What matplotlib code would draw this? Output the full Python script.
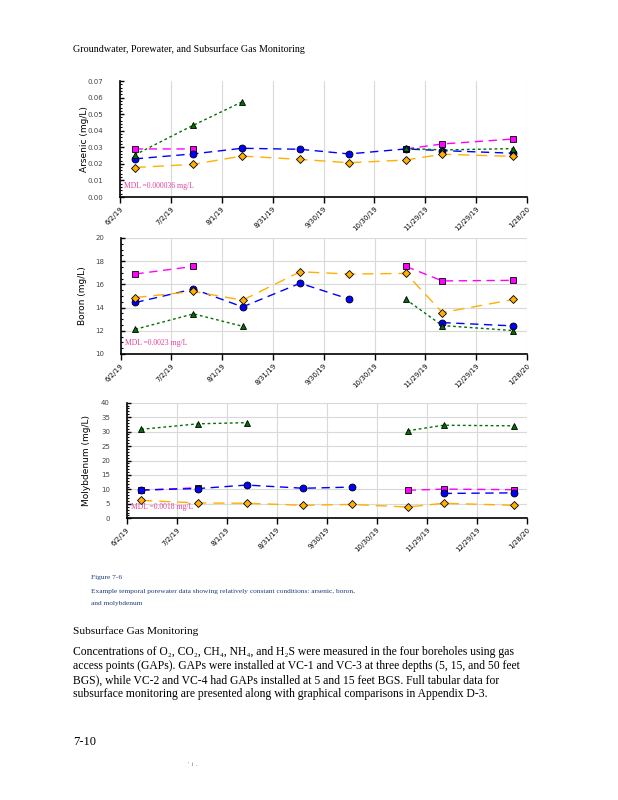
import matplotlib
matplotlib.use("Agg")
import matplotlib.pyplot as plt
import numpy as np

# Sampling positions, in days after the first axis tick
sample_days = [8.7, 43, 72, 106, 135, 168.5, 190, 232]
tick_labels = ["6/2/19", "7/2/19", "8/1/19", "8/31/19", "9/30/19",
               "10/30/19", "11/29/19", "12/29/19", "1/28/20"]

nan = np.nan

arsenic_magenta = [0.029, 0.029, nan, nan, nan, 0.029, 0.032, 0.035]
arsenic_blue = [0.023, 0.026, 0.0294, 0.0288, 0.026, 0.029, 0.028, 0.0264]
arsenic_green = [0.0254, 0.0432, 0.0574, nan, nan, 0.0294, 0.0284, 0.0292]
arsenic_orange = [0.0178, 0.0197, 0.0247, 0.0227, 0.0207, 0.0223, 0.0258, 0.0245]

boron_magenta = [16.9, 17.55, nan, nan, nan, 17.55, 16.3, 16.35]
boron_blue = [14.44, 15.6, 14.06, 16.1, 14.73, nan, 12.71, 12.42]
boron_green = [12.13, 13.46, 12.39, nan, nan, 14.7, 12.45, 12.02]
boron_orange = [14.87, 15.39, 14.64, 17.09, 16.89, 16.95, 13.57, 14.7]

moly_magenta = [9.7, 10.6, nan, nan, nan, 9.7, 10.1, 9.9]
moly_blue = [9.8, 10.3, 11.5, 10.4, 10.8, nan, 8.6, 8.8]
moly_green = [30.8, 32.7, 33.1, nan, nan, 30.3, 32.2, 32.0]
moly_orange = [6.2, 5.3, 5.2, 4.5, 4.8, 3.9, 5.2, 4.5]

SERIES_STYLE = [
    ("magenta", "s", (0, (6, 4))),
    ("#0000ff", "o", (0, (6, 4))),
    ("#007000", "^", (0, (2, 2))),
    ("#ffb000", "D", (0, (8, 5))),
]

plt.rcParams["font.family"] = ["Liberation Serif", "DejaVu Serif"]

fig = plt.figure(figsize=(6.18, 8.0), dpi=100)
W, H = 618.0, 800.0


def add_axes(left, top, right, bottom):
    return fig.add_axes([left / W, 1 - bottom / H, (right - left) / W, (bottom - top) / H])


def draw_chart(ax, series, ylim, yticks, fmt, ylabel, mdl, hgrid=True, labelpad=4):
    x = np.array(sample_days)
    for (color, marker, ls), vals in zip(SERIES_STYLE, series):
        y = np.array(vals, dtype=float)
        ax.plot(x, y, color=color, linestyle=ls, linewidth=1.0, zorder=3)
        ax.plot(x, y, linestyle="none", marker=marker, markersize=5 if marker != "D" else 4.5,
                markerfacecolor=color, markeredgecolor="black", markeredgewidth=0.6, zorder=4)
    ticks = np.arange(0, 30 * len(tick_labels), 30)
    ax.set_xlim(0, ticks[-1])
    ax.set_ylim(*ylim)
    ax.set_xticks(ticks)
    ax.set_xticklabels(tick_labels, rotation=45, ha="right", rotation_mode="anchor",
                       fontsize=5, family="DejaVu Sans")
    ax.set_yticks(yticks)
    ax.set_yticklabels([fmt.format(v) for v in yticks], fontsize=5, family="DejaVu Sans",
                       color="#444444")
    ax.grid(True, axis="x", color="#d9d9d9", linewidth=0.8, zorder=0)
    if hgrid:
        ax.grid(True, axis="y", color="#d9d9d9", linewidth=0.8, zorder=0)
    ax.tick_params(axis="x", direction="out", length=4, width=1, pad=2)
    ax.tick_params(axis="y", direction="in", length=3, width=1, pad=12)
    ax.minorticks_on()
    ax.tick_params(axis="x", which="minor", bottom=False)
    ax.tick_params(axis="y", which="minor", direction="in", length=1.5, width=0.8)
    for s in ("top", "right"):
        ax.spines[s].set_visible(False)
    ax.spines["left"].set_linewidth(1.2)
    ax.spines["bottom"].set_linewidth(1.2)
    ax.set_ylabel(ylabel, fontsize=6.5, family="DejaVu Sans", labelpad=labelpad)
    ax.text(0.01, 0.06, mdl, transform=ax.transAxes, fontsize=5.5, color="#e0409a",
            va="bottom", ha="left", zorder=5)


ax1 = add_axes(120, 81, 527, 197)
draw_chart(ax1, [arsenic_magenta, arsenic_blue, arsenic_green, arsenic_orange],
           (0, 0.07), np.arange(0, 0.071, 0.01), "{:.2f}", "Arsenic (mg/L)",
           "MDL =0.000036 mg/L", hgrid=False, labelpad=-1)

ax2 = add_axes(120.7, 238, 527, 354)
draw_chart(ax2, [boron_magenta, boron_blue, boron_green, boron_orange],
           (10, 20), np.arange(10, 21, 2), "{:.0f}", "Boron (mg/L)",
           "MDL =0.0023 mg/L", labelpad=6)

ax3 = add_axes(126.7, 402.7, 527, 518.3)
draw_chart(ax3, [moly_magenta, moly_blue, moly_green, moly_orange],
           (0, 40), np.arange(0, 41, 5), "{:.0f}", "Molybdenum (mg/L)",
           "MDL =0.0018 mg/L", labelpad=7)


def page_text(x, y, s, size, color="black", **kw):
    fig.text(x / W, 1 - y / H, s, fontsize=size, color=color, va="center", ha="left", **kw)


page_text(73, 49, "Groundwater, Porewater, and Subsurface Gas Monitoring", 7.2)

cap_color = "#1f3d7a"
page_text(91, 578, "Figure 7-6", 5.35, cap_color)
page_text(91, 591, "Example temporal porewater data showing relatively constant conditions: arsenic, boron,",
          5.35, cap_color)
page_text(91, 603, "and molybdenum", 5.35, cap_color)

page_text(73, 631, "Subsurface Gas Monitoring", 8.2)

para = [
    "Concentrations of O\u2082, CO\u2082, CH\u2084, NH\u2084, and H\u2082S were measured in the four boreholes using gas",
    "access points (GAPs). GAPs were installed at VC-1 and VC-3 at three depths (5, 15, and 50 feet",
    "BGS), while VC-2 and VC-4 had GAPs installed at 5 and 15 feet BGS. Full tabular data for",
    "subsurface monitoring are presented along with graphical comparisons in Appendix D-3.",
]
for i, line in enumerate(para):
    page_text(73, 652 + 14 * i, line, 8.4)

page_text(73, 742, "7-10", 9.0)
page_text(188, 765, "'  i  .", 4, "#666666")

fig.savefig("out.png", dpi=100)
